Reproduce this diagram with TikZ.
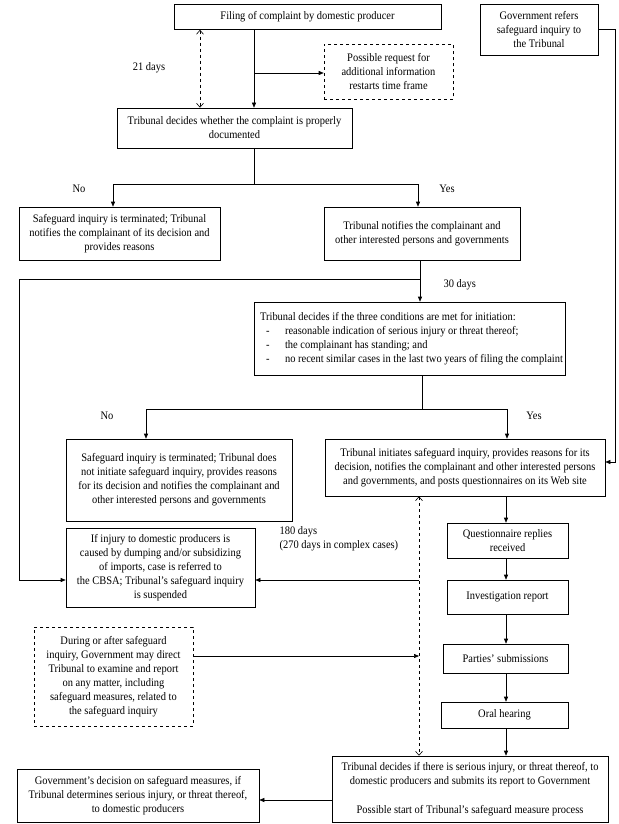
\documentclass[tikz,border=0pt]{standalone}
\usepackage{fontspec}
\setmainfont{Liberation Serif}[FakeStretch=0.91]
\usetikzlibrary{arrows.meta}
\begin{document}
\begin{tikzpicture}[x=1pt,y=-1pt,line width=0.6pt,
  every node/.style={font=\fontsize{11.5}{14}\selectfont},
  box/.style={draw,align=center,inner sep=2pt},
  dashbox/.style={box,dashed},
  arr/.style={-{Triangle[length=5pt,width=4pt]}},
  darr/.style={dashed,{Straight Barb[length=4pt,width=7pt]}-{Straight Barb[length=4pt,width=7pt]}}]
\useasboundingbox (0,0) rectangle (618,824);
\node[box,minimum width=267pt,minimum height=25pt] (file) at (307.5,17) {Filing of complaint by domestic producer};
\node[box,minimum width=118pt,minimum height=51pt] (gov) at (539,29.5) {Government refers\\safeguard inquiry to\\the Tribunal};
\node[dashbox,minimum width=129pt,minimum height=55pt] (extra) at (388.5,72) {Possible request for\\additional information\\restarts time frame};
\node[box,minimum width=235pt,minimum height=40pt] (doc) at (234.5,128) {Tribunal decides whether the complaint is properly\\documented};
\node[box,minimum width=201pt,minimum height=53pt] (term1) at (119.5,233.5) {Safeguard inquiry is terminated; Tribunal\\notifies the complainant of its decision and\\provides reasons};
\node[box,minimum width=196pt,minimum height=53pt] (notify) at (422,233.5) {Tribunal notifies the complainant and\\other interested persons and governments};
\node[box,minimum width=305pt,minimum height=73pt,align=left] (cond) at (409.5,338.5) {\hspace*{4pt}Tribunal decides if the three conditions are met for initiation:\\
\hspace*{10pt}\makebox[19pt][l]{-}reasonable indication of serious injury or threat thereof;\\
\hspace*{10pt}\makebox[19pt][l]{-}the complainant has standing; and\\
\hspace*{10pt}\makebox[19pt][l]{-}no recent similar cases in the last two years of filing the complaint};
\node[box,minimum width=226pt,minimum height=82pt] (term2) at (179,480) {Safeguard inquiry is terminated; Tribunal does\\not initiate safeguard inquiry, provides reasons\\for its decision and notifies the complainant and\\other interested persons and governments};
\node[box,minimum width=280pt,minimum height=57pt] (init) at (465,467.5) {Tribunal initiates safeguard inquiry, provides reasons for its\\decision, notifies the complainant and other interested persons\\and governments, and posts questionnaires on its Web site};
\node[box,minimum width=189pt,minimum height=79pt] (cbsa) at (160.5,567.5) {If injury to domestic producers is\\caused by dumping and/or subsidizing\\of imports, case is referred to\\the CBSA; Tribunal's safeguard inquiry\\is suspended};
\node[dashbox,minimum width=159pt,minimum height=99pt] (direct) at (113.5,676.5) {During or after safeguard\\inquiry, Government may direct\\Tribunal to examine and report\\on any matter, including\\safeguard measures, related to\\the safeguard inquiry};
\node[box,minimum width=121pt,minimum height=35pt] (quest) at (507.5,540.5) {Questionnaire replies\\received};
\node[box,minimum width=121pt,minimum height=34pt] (report) at (507.5,597) {Investigation report};
\node[box,minimum width=125pt,minimum height=29pt] (parties) at (505.5,658.5) {Parties' submissions};
\node[box,minimum width=127pt,minimum height=26pt] (oral) at (504.5,715) {Oral hearing};
\node[box,minimum width=276pt,minimum height=66pt] (final) at (470,789) {Tribunal decides if there is serious injury, or threat thereof, to\\domestic producers and submits its report to Government\\[15pt]Possible start of Tribunal's safeguard measure process};
\node[box,minimum width=242pt,minimum height=53pt] (govdec) at (138,795.5) {Government's decision on safeguard measures, if\\Tribunal determines serious injury, or threat thereof,\\to domestic producers};
\node (d21) at (149,68) {21 days};
\node (no1) at (79,189) {No};
\node (yes1) at (447,189) {Yes};
\node[anchor=west] (d30) at (440,285) {30 days};
\node (no2) at (107,416) {No};
\node (yes2) at (534,416) {Yes};
\node[anchor=west,align=left] (d180) at (276,538.5) {180 days\\(270 days in complex cases)};
\coordinate (a1) at (254,73);
\coordinate (a2) at (200,0);
\draw[arr] (a1 |- file.south) -- (a1 |- doc.north);
\draw[arr] (a1) -- (a1 -| extra.west);
\draw[darr] (a2 |- file.south) -- (a2 |- doc.north);
\coordinate (b1) at (254,184);
\coordinate (b2) at (113,184);
\coordinate (b3) at (418,184);
\draw (b1 |- doc.south) -- (b1);
\draw[arr] (b1) -- (b2) -- (b2 |- term1.north);
\draw[arr] (b1) -- (b3) -- (b3 |- notify.north);
\coordinate (c1) at (420,279);
\coordinate (c2) at (19,279);
\coordinate (c3) at (19,580);
\draw[arr] (c1 |- notify.south) -- (c1 |- cond.north);
\draw[arr] (c1) -- (c2) -- (c3) -- (c3 -| cbsa.west);
\coordinate (d1) at (422,409);
\coordinate (d2) at (146,409);
\coordinate (d3) at (507,409);
\draw (d1 |- cond.south) -- (d1);
\draw[arr] (d1) -- (d2) -- (d2 |- term2.north);
\draw[arr] (d1) -- (d3) -- (d3 |- init.north);
\coordinate (e1) at (615,30);
\coordinate (e2) at (615,462);
\draw[arr] (gov.east) -- (gov.east -| e1) -- (e2) -- (e2 -| init.east);
\coordinate (f1) at (506,0);
\draw[arr] (f1 |- init.south) -- (f1 |- quest.north);
\draw[arr] (f1 |- quest.south) -- (f1 |- report.north);
\draw[arr] (f1 |- report.south) -- (f1 |- parties.north);
\draw[arr] (f1 |- parties.south) -- (f1 |- oral.north);
\draw[arr] (f1 |- oral.south) -- (f1 |- final.north);
\coordinate (g1) at (419,580);
\coordinate (g2) at (419,656);
\draw[darr] (g1 |- init.south) -- (g1 |- final.north);
\draw[arr] (g1) -- (g1 -| cbsa.east);
\draw[arr] (g2 -| direct.east) -- (g2);
\coordinate (h1) at (0,800);
\draw[arr] (h1 -| final.west) -- (h1 -| govdec.east);
\end{tikzpicture}
\end{document}
